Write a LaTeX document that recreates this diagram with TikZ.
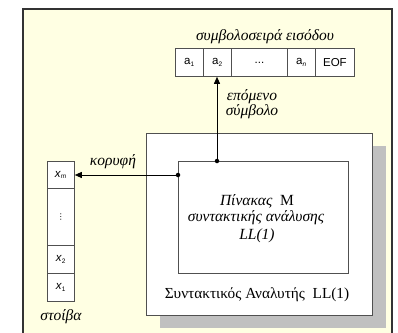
\documentclass[tikz,border=0pt]{standalone}
\usepackage{fontspec}
\setmainfont{Liberation Serif}
\newfontfamily\arialf{Liberation Sans}
\newfontfamily\dejavuf{DejaVu Sans}
\usetikzlibrary{arrows.meta}
\definecolor{bgyellow}{HTML}{FFFFE3}
\definecolor{shadowgray}{HTML}{C0C0C0}
\definecolor{linegray}{HTML}{505050}
\newcommand{\sbs}[1]{\textsubscript{\fontsize{6.5}{7}\selectfont #1}}
\begin{document}
\begin{tikzpicture}[x=1pt,y=-1pt,
  cellbox/.style={draw=linegray,line width=0.8pt,fill=white,minimum height=28pt,inner sep=0pt,font=\arialf\fontsize{11.5}{13}\selectfont},
  stackbox/.style={draw=linegray,line width=0.8pt,fill=white,minimum width=27pt,inner sep=0pt,font=\arialf\fontsize{11.5}{13}\selectfont},
  greek/.style={font=\fontsize{15.5}{17}\selectfont\itshape,inner sep=0pt},
  dotmark/.style={circle,fill=black,inner sep=0pt,minimum size=4.5pt},
  arr/.style={-{Triangle[length=7pt,width=6pt]},line width=0.9pt,black}
]
\useasboundingbox (0,0) rectangle (398,332);
% outer frame
\fill[bgyellow] (23,9) rectangle (392,340);
\draw[line width=1.4pt,black!80] (23,340) -- (23,9) -- (392,9) -- (392,340);
% shadow and main box
\fill[shadowgray] (160,146) rectangle (386,328);
\node[draw=linegray,line width=0.9pt,fill=white,minimum width=226pt,minimum height=182pt,inner sep=0pt,anchor=north west] (parser) at (146,133) {};
\node[draw=linegray,line width=0.9pt,fill=white,minimum width=170pt,minimum height=112pt,inner sep=0pt,anchor=north west] (table) at (178,161) {};
% inner texts
\node[font=\fontsize{15.5}{17}\selectfont,inner sep=0pt] (t1) at (257,201) {\textit{Πίνακας}\ \ M};
\node[greek] (t2) at (256,218) {συντακτικής ανάλυσης};
\node[greek] (t3) at (257,236) {LL(1)};
\node[font=\fontsize{15.3}{17}\selectfont,inner sep=0pt] (t4) at (257,295) {Συντακτικός Αναλυτής\ \ LL(1)};
% input tape
\node[cellbox,minimum width=28pt,anchor=north west] (a1) at (175,48) {a\sbs{1}};
\node[cellbox,minimum width=28pt,anchor=north west] (a2) at (203,48) {a\sbs{2}};
\node[cellbox,minimum width=56pt,anchor=north west] (dots) at (231,48) {...};
\node[cellbox,minimum width=28pt,anchor=north west] (an) at (287,48) {a\sbs{\itshape n}};
\node[cellbox,minimum width=39pt,anchor=north west] (eof) at (315,48) {EOF};
\node[greek] (tapelbl) at (265,37) {συμβολοσειρά εισόδου};
% stack
\node[stackbox,minimum height=27pt,anchor=north west] (xm) at (47,161) {\textit{x}\sbs{\itshape m}};
\node[stackbox,minimum height=57pt,anchor=north west] (xd) at (47,188) {\dejavuf\fontsize{8}{9}\selectfont ⋮};
\node[stackbox,minimum height=28pt,anchor=north west] (x2) at (47,245) {\textit{x}\sbs{2}};
\node[stackbox,minimum height=28pt,anchor=north west] (x1) at (47,273) {\textit{x}\sbs{1}};
\node[greek] (stacklbl) at (61,317) {στοίβα};
% connectors
\node[dotmark] (d1) at (217,161) {};
\node[dotmark] (d2) at (178,175) {};
\draw[arr] (d1.center) -- (d1.center |- a2.south);
\draw[arr] (d2.center) -- (d2.center -| xm.east);
\node[greek] (next1) at (252,97) {επόμενο};
\node[greek] (next2) at (252,112) {σύμβολο};
\node[greek] (toplbl) at (113,162) {κορυφή};
\end{tikzpicture}
\end{document}
